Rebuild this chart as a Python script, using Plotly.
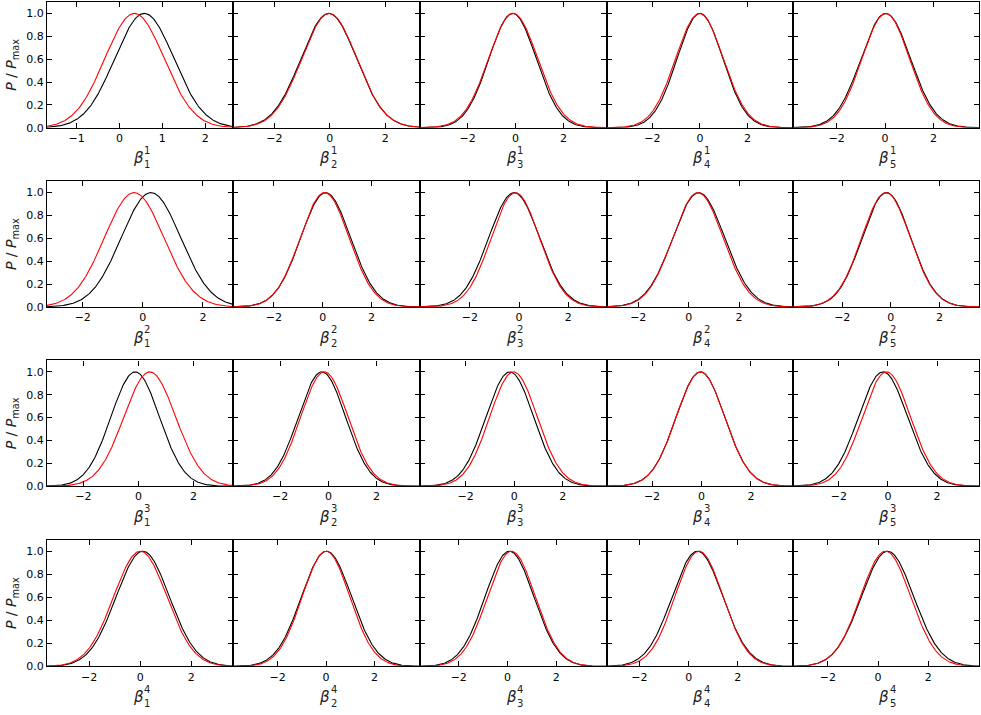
import numpy as np
import plotly.graph_objects as go

# posterior summaries: rows = beta^r, cols = beta_c
black_mu = [[0.58, -0.04, -0.12, 0.00, 0.03],
            [0.27, 0.12, -0.20, 0.40, -0.18],
            [-0.12, -0.27, -0.18, -0.04, -0.20],
            [0.10, 0.02, 0.08, 0.36, 0.38]]
black_sd = [[0.69, 1.00, 0.98, 0.96, 1.02],
            [0.99, 1.02, 1.03, 1.03, 1.00],
            [0.88, 0.98, 0.98, 0.98, 1.00],
            [1.04, 1.03, 1.00, 1.03, 1.04]]
red_mu = [[0.35, -0.02, -0.10, -0.02, 0.03],
          [-0.29, 0.08, -0.15, 0.37, -0.20],
          [0.41, -0.17, -0.03, -0.04, -0.06],
          [0.00, 0.00, 0.16, 0.42, 0.30]]
red_sd = [[0.69, 0.99, 1.02, 1.00, 0.98],
          [0.99, 1.00, 0.98, 1.00, 1.00],
          [0.94, 0.98, 0.98, 0.98, 0.98],
          [1.04, 0.98, 0.98, 0.98, 1.00]]
x_lo = [[-1.69, -3.49, -3.98, -3.93, -3.81],
        [-3.19, -3.67, -4.02, -3.26, -4.04],
        [-3.32, -3.96, -3.88, -3.84, -3.88],
        [-3.65, -3.84, -3.59, -3.34, -3.40]]
x_hi = [[2.65, 3.25, 3.79, 3.90, 3.88],
        [3.00, 3.98, 3.55, 4.13, 3.63],
        [3.43, 3.80, 3.80, 3.69, 3.71],
        [3.63, 3.88, 4.06, 4.23, 4.02]]
y_ticks = [0.0, 0.2, 0.4, 0.6, 0.8, 1.0]
x_ticks_first = [-1, 0, 1, 2]
x_ticks = [-2, 0, 2]

W, H = 981, 715
col_px = [47, 233, 420, 606.5, 792.7, 979]
row_px = [(2, 129), (183, 310), (364, 491), (545, 673)]

fig = go.Figure()
layout = {}
font = dict(family="DejaVu Sans", size=11, color="black")

def label(x, y, text, size, family="DejaVu Sans", angle=0):
    fig.add_annotation(x=x, y=y, xref="paper", yref="paper", text=text,
                       showarrow=False, xanchor="center", yanchor="middle",
                       textangle=angle,
                       font=dict(family=family, size=size, color="#222"))

for r in range(4):
    for c in range(5):
        k = r * 5 + c + 1
        xs = np.linspace(x_lo[r][c], x_hi[r][c], 300)
        for mu, sd, col in [(black_mu[r][c], black_sd[r][c], "black"),
                            (red_mu[r][c], red_sd[r][c], "#ff0000")]:
            p = np.exp(-0.5 * ((xs - mu) / sd) ** 2)
            fig.add_trace(go.Scatter(x=xs, y=p / p.max(), mode="lines",
                                     line=dict(color=col, width=1.1),
                                     xaxis=f"x{k}", yaxis=f"y{k}",
                                     showlegend=False, hoverinfo="skip"))
        x0, x1 = col_px[c] / W, col_px[c + 1] / W
        top, bot = row_px[r]
        ax = dict(showline=True, linecolor="black", linewidth=1.2, mirror="ticks",
                  ticks="inside", ticklen=5, tickcolor="black", tickwidth=1,
                  showgrid=False, zeroline=False, tickfont=font)
        layout[f"xaxis{k}"] = dict(ax, domain=[x0, x1], anchor=f"y{k}",
                                   range=[x_lo[r][c], x_hi[r][c]],
                                   tickvals=x_ticks_first if (r == 0 and c == 0) else x_ticks)
        layout[f"yaxis{k}"] = dict(ax, domain=[1 - bot / H, 1 - top / H],
                                   anchor=f"x{k}", range=[0, 1.1],
                                   tickvals=y_ticks, tickformat=".1f",
                                   showticklabels=(c == 0))

        # beta label with stacked super/subscripts
        cx = (col_px[c] + col_px[c + 1]) / 2
        ly = bot + 31
        label((cx - 2) / W, 1 - ly / H, "<i>β</i>", 15)
        label((cx + 7) / W, 1 - (ly - 8) / H, str(r + 1), 10)
        label((cx + 7) / W, 1 - (ly + 6) / H, str(c + 1), 10)

    # y label on the first column
    label(12 / W, 1 - (row_px[r][0] + row_px[r][1]) / 2 / H,
          "<i>P</i> / <i>P</i><sub>max</sub>", 14, angle=-90)

fig.update_layout(**layout)
fig.update_layout(width=W, height=H, margin=dict(l=0, r=0, t=0, b=0),
                  paper_bgcolor="white", plot_bgcolor="white")

# drop the default 8px body margin so the figure fills the window
fig.write_html("out.html", config={"displayModeBar": False},
               post_script="document.body.style.margin='0px';")
